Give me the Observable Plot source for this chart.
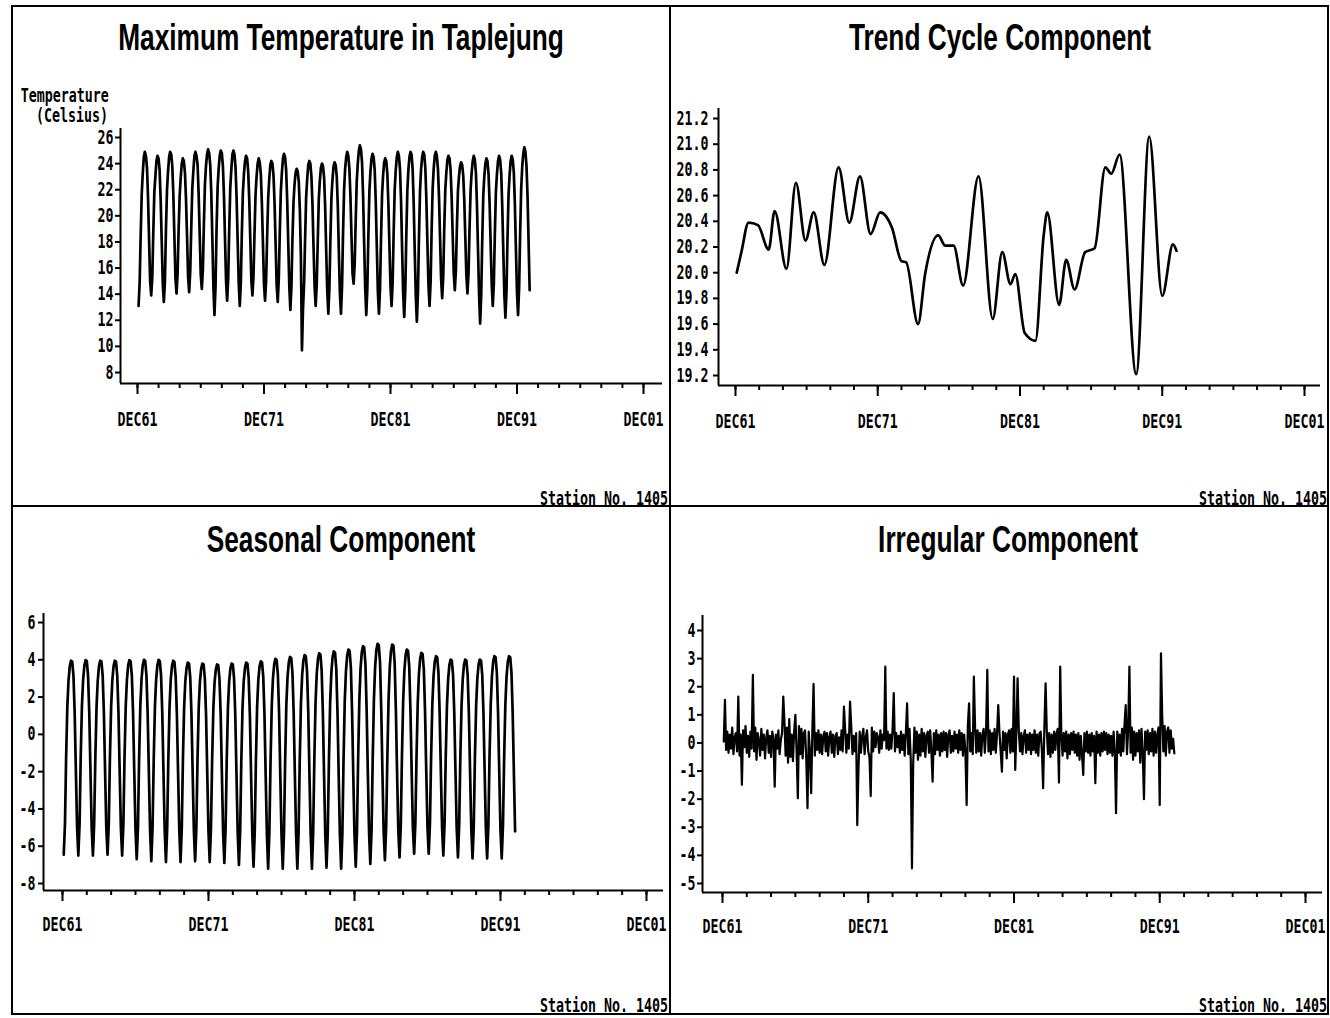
<!DOCTYPE html>
<html>
<head>
<meta charset="utf-8">
<script src="https://cdn.jsdelivr.net/npm/d3@7"></script>
<script src="https://cdn.jsdelivr.net/npm/@observablehq/plot@0.6"></script>
<style>
  html, body { margin: 0; padding: 0; background: #fff; }
  #page { position: relative; width: 1330px; height: 1018px; overflow: hidden; background: #fff; }
  .rule { position: absolute; background: #000; }
  .title {
    position: absolute; white-space: nowrap; color: #000; line-height: 1;
    font-family: "Liberation Sans", Arial, sans-serif; font-weight: bold; font-size: 37px;
    transform: translateX(-50%) scaleX(0.71);
  }
  .sas {
    position: absolute; white-space: nowrap; color: #000; line-height: 1;
    font-family: "DejaVu Sans Mono", monospace; font-weight: bold; font-size: 19px;
    transform-origin: right center; transform: scaleX(0.7);
  }
  .chart { position: absolute; }
</style>
</head>
<body>
<div id="page"></div>
<script>
// Monthly maximum temperature at Taplejung, Jan 1962 – Dec 1992 (°C), one row per year
const maxTemp = [
  [13.1,14.9,18.3,21.6,23.2,24.5,24.9,24.6,23.7,21.4,18.1,15.0],
  [13.9,15.3,18.6,21.8,23.0,24.2,24.6,24.4,23.5,21.2,18.0,14.8],
  [13.4,15.0,18.9,22.0,23.4,24.5,24.9,24.7,23.8,21.6,18.3,15.2],
  [14.05,15.6,18.8,21.5,22.9,24.0,24.4,24.2,23.3,21.3,18.4,15.3],
  [14.15,15.8,19.0,22.1,23.4,24.6,24.9,24.6,23.9,21.7,18.6,15.5],
  [14.4,15.9,19.3,22.4,23.8,24.7,25.1,24.8,23.9,21.8,18.3,14.6],
  [12.4,14.6,18.9,22.2,23.6,24.6,25.0,24.8,23.8,21.6,18.2,15.0],
  [13.5,15.2,18.8,22.1,23.5,24.7,25.0,24.7,23.7,21.4,18.1,14.9],
  [13.1,14.9,18.6,21.8,23.2,24.2,24.6,24.4,23.4,21.3,18.2,15.1],
  [13.9,15.4,18.5,21.6,23.0,24.0,24.4,24.1,23.2,21.0,17.9,14.8],
  [13.5,15.1,18.4,21.4,22.8,23.9,24.2,24.0,23.1,21.0,17.8,14.7],
  [13.4,15.2,18.7,21.9,23.3,24.4,24.75,24.5,23.5,21.2,17.9,14.6],
  [12.8,14.6,18.2,21.0,22.4,23.3,23.6,23.4,22.6,20.5,16.9,9.7],
  [12.9,14.8,18.1,21.4,22.8,23.9,24.2,24.0,23.0,20.9,17.6,14.6],
  [13.1,14.7,18.0,21.3,22.7,23.7,24.0,23.8,22.9,20.7,17.3,14.2],
  [12.5,14.5,18.1,21.4,22.8,23.8,24.1,23.9,23.0,20.8,17.2,14.1],
  [12.5,14.6,18.6,22.0,23.6,24.5,24.9,24.6,23.6,21.5,18.4,15.6],
  [14.8,16.3,19.5,22.6,24.0,25.0,25.4,25.1,24.1,21.6,17.9,14.5],
  [12.4,14.4,18.4,21.9,23.4,24.4,24.75,24.5,23.5,21.1,17.6,14.2],
  [12.5,14.4,18.1,21.6,23.1,24.1,24.4,24.2,23.2,20.9,17.6,14.6],
  [13.1,14.9,18.6,22.0,23.5,24.5,24.9,24.6,23.6,21.2,17.5,14.1],
  [12.25,14.3,18.3,21.9,23.5,24.5,24.9,24.7,23.6,21.0,17.3,13.9],
  [11.9,14.1,18.2,21.9,23.5,24.5,24.9,24.7,23.7,21.3,17.9,14.7],
  [13.1,14.9,18.7,22.1,23.6,24.6,24.9,24.6,23.6,21.5,18.3,15.2],
  [13.7,15.4,18.9,22.0,23.3,24.3,24.6,24.4,23.5,21.5,18.5,15.6],
  [14.3,15.8,19.0,21.9,23.0,23.8,24.1,23.9,23.1,21.2,18.3,15.4],
  [14.05,15.6,19.0,22.0,23.3,24.2,24.6,24.3,23.3,20.9,17.4,14.0],
  [11.75,13.9,17.9,21.5,23.0,24.0,24.4,24.2,23.2,21.0,17.8,14.8],
  [13.1,14.8,18.5,21.8,23.2,24.2,24.6,24.3,23.3,20.8,17.3,14.0],
  [12.2,14.2,18.1,21.6,23.1,24.2,24.6,24.3,23.3,20.9,17.4,14.1],
  [12.4,14.5,18.6,22.1,23.8,24.8,25.25,24.9,23.8,21.5,17.9,14.3]
];

// Trend-cycle component: month offset from Jan 1962 and level (°C)
const trendMonths = [0,4,10,18,27,32,42,50,58,65,74,86,95,104,113,121,131,139,143,153,
  159,170,176,183,191,204,216,224,231,235,243,252,259,262,272,278,285,294,302,311,
  316,323,337,348,359,368,371];
const trendValues = [20.00,20.16,20.39,20.37,20.18,20.48,20.03,20.70,20.25,20.47,
  20.06,20.82,20.39,20.75,20.30,20.47,20.35,20.09,20.08,19.60,
  19.99,20.29,20.21,20.21,19.90,20.75,19.64,20.16,19.91,19.99,
  19.53,19.47,20.29,20.47,19.75,20.10,19.87,20.16,20.19,20.82,
  20.77,20.92,19.21,21.06,19.82,20.22,20.17];

// Seasonal component, one row per year
const seasonal = [
  [-6.45,-4.80,-1.30,1.50,2.90,3.65,3.95,3.90,3.15,1.20,-2.00,-5.00],
  [-6.50,-4.82,-1.30,1.52,2.92,3.68,3.98,3.93,3.17,1.20,-2.02,-5.02],
  [-6.50,-4.81,-1.31,1.50,2.90,3.66,3.95,3.91,3.15,1.19,-2.03,-5.03],
  [-6.45,-4.80,-1.30,1.50,2.91,3.66,3.95,3.90,3.14,1.18,-2.05,-5.05],
  [-6.50,-4.85,-1.32,1.52,2.93,3.70,3.98,3.92,3.15,1.17,-2.08,-5.10],
  [-6.70,-4.95,-1.35,1.53,2.95,3.72,4.00,3.94,3.16,1.16,-2.10,-5.15],
  [-6.80,-5.00,-1.38,1.52,2.95,3.71,4.00,3.93,3.14,1.14,-2.12,-5.18],
  [-6.85,-5.02,-1.40,1.50,2.92,3.66,3.95,3.88,3.10,1.12,-2.13,-5.20],
  [-6.85,-5.03,-1.42,1.46,2.86,3.57,3.85,3.80,3.04,1.10,-2.14,-5.20],
  [-6.80,-5.02,-1.42,1.44,2.82,3.52,3.80,3.75,3.00,1.08,-2.15,-5.22],
  [-6.85,-5.05,-1.44,1.42,2.78,3.47,3.75,3.71,2.97,1.07,-2.17,-5.25],
  [-6.90,-5.08,-1.45,1.44,2.82,3.52,3.80,3.75,3.00,1.08,-2.18,-5.28],
  [-7.00,-5.14,-1.47,1.46,2.86,3.57,3.85,3.80,3.04,1.10,-2.20,-5.32],
  [-7.10,-5.20,-1.50,1.50,2.92,3.64,3.92,3.87,3.10,1.12,-2.22,-5.35],
  [-7.20,-5.26,-1.52,1.55,3.00,3.76,4.05,3.99,3.20,1.15,-2.24,-5.38],
  [-7.20,-5.27,-1.52,1.60,3.08,3.86,4.15,4.09,3.28,1.18,-2.25,-5.40],
  [-7.20,-5.28,-1.52,1.64,3.16,3.95,4.25,4.19,3.36,1.20,-2.26,-5.40],
  [-7.20,-5.28,-1.50,1.68,3.23,4.05,4.35,4.29,3.44,1.22,-2.26,-5.40],
  [-7.15,-5.26,-1.48,1.72,3.31,4.15,4.45,4.38,3.52,1.24,-2.25,-5.40],
  [-7.20,-5.28,-1.47,1.76,3.38,4.23,4.55,4.48,3.60,1.26,-2.25,-5.38],
  [-7.10,-5.22,-1.42,1.83,3.52,4.40,4.73,4.66,3.74,1.30,-2.22,-5.32],
  [-6.95,-5.12,-1.38,1.88,3.61,4.52,4.86,4.79,3.84,1.33,-2.18,-5.25],
  [-6.75,-4.98,-1.34,1.86,3.59,4.48,4.82,4.75,3.81,1.32,-2.14,-5.15],
  [-6.60,-4.88,-1.30,1.76,3.40,4.24,4.55,4.49,3.60,1.26,-2.10,-5.05],
  [-6.40,-4.75,-1.27,1.68,3.25,4.07,4.37,4.31,3.46,1.22,-2.07,-5.00],
  [-6.40,-4.75,-1.27,1.60,3.11,3.90,4.19,4.13,3.32,1.18,-2.06,-5.02],
  [-6.50,-4.80,-1.28,1.54,2.98,3.73,4.01,3.96,3.18,1.15,-2.07,-5.05],
  [-6.60,-4.86,-1.30,1.54,2.98,3.73,4.01,3.96,3.18,1.15,-2.08,-5.08],
  [-6.65,-4.90,-1.31,1.55,2.99,3.74,4.01,3.96,3.18,1.15,-2.10,-5.12],
  [-6.65,-4.90,-1.31,1.60,3.10,3.89,4.19,4.13,3.31,1.18,-2.11,-5.15],
  [-6.65,-4.91,-1.32,1.60,3.10,3.89,4.19,4.13,3.31,1.18,-2.12,-5.20]
];

// Irregular component, one row per year
const irregular = [
  [0.05,1.53,-0.25,0.40,-0.35,0.30,-0.20,0.55,-0.40,0.20,0.35,-0.30],
  [1.65,-0.45,0.30,-1.49,0.45,-0.15,0.60,-0.35,0.25,-0.50,0.40,-0.20],
  [2.42,-0.30,0.55,-0.60,0.35,0.10,-0.45,0.50,-0.25,0.30,-0.55,0.20],
  [0.45,-0.35,0.25,-0.50,0.40,0.15,-1.56,0.30,-0.20,0.45,-0.40,0.10],
  [0.35,1.65,0.80,-0.45,0.55,-0.70,0.85,-0.50,0.30,-0.65,0.40,1.00],
  [-0.30,-1.97,0.60,-0.40,0.50,-0.55,0.35,0.45,-0.60,-2.32,0.40,-0.30],
  [-1.79,0.50,2.10,-0.45,0.35,-0.25,0.45,-0.35,0.30,-0.40,0.25,0.40],
  [-0.30,0.35,-0.45,0.20,0.40,-0.35,0.30,-0.50,0.25,0.35,-0.40,0.20],
  [-0.25,0.45,-0.30,1.29,0.50,-0.35,0.30,-0.20,1.47,0.60,-0.40,0.25],
  [-0.30,0.35,-2.92,-0.90,0.40,-0.35,0.25,0.50,-0.40,0.20,0.45,-0.30],
  [-0.50,-1.89,0.55,-0.30,0.40,-0.15,0.35,0.20,-0.35,0.45,-0.20,0.30],
  [0.10,2.72,-0.20,0.40,-0.25,0.30,-0.20,0.45,1.77,-0.30,0.35,-0.15],
  [0.25,-0.35,0.40,-0.25,0.30,-0.45,0.35,1.41,-0.40,0.50,-0.60,-4.46],
  [-0.70,0.55,-0.35,0.40,-0.60,0.30,-0.45,0.50,-0.30,0.35,-0.50,0.25],
  [0.40,-0.35,0.45,-0.30,-1.38,0.35,-0.40,0.45,-0.25,0.30,-0.45,0.35],
  [-0.30,0.40,-0.25,0.35,-0.50,0.30,0.45,-0.35,0.25,-0.30,0.40,-0.20],
  [0.30,-0.35,0.45,-0.25,0.35,-0.45,0.30,-0.30,-2.21,0.60,1.41,-0.30],
  [0.35,-0.40,2.36,0.55,-0.35,0.45,-0.30,0.35,-0.45,0.30,0.50,-0.35],
  [0.40,2.60,-0.30,0.45,-0.40,0.35,-0.25,0.50,-0.35,0.30,1.35,0.40],
  [-0.30,-1.02,0.40,-0.25,0.35,-0.55,0.30,0.45,-0.35,0.50,-0.30,2.36],
  [-0.96,0.55,2.30,0.40,-0.30,0.35,-0.40,0.25,0.45,-0.35,0.30,-0.25],
  [0.35,-0.40,0.30,-0.25,0.45,-0.35,0.30,-0.45,0.35,0.40,-0.30,-1.61],
  [0.55,2.12,0.45,-0.40,0.35,-0.50,0.30,-0.35,0.40,-0.25,0.35,0.50],
  [-1.41,2.72,0.30,-0.45,0.35,-0.30,0.40,-0.55,0.30,-0.40,0.35,-0.25],
  [0.40,-0.35,0.30,-0.45,0.35,-0.60,0.25,-0.40,-1.14,0.35,-0.30,0.40],
  [-0.35,0.30,-0.45,0.35,-0.30,0.25,-1.43,0.40,-0.35,0.30,-0.45,0.35],
  [-0.30,0.40,-0.25,0.35,-0.40,0.30,-0.35,0.25,-0.45,0.40,-0.30,-2.50],
  [0.40,-0.35,0.30,-0.45,0.50,-0.30,0.65,1.35,-0.40,0.45,2.72,-0.35],
  [0.55,-0.60,0.40,-0.45,0.35,-0.30,0.45,-0.70,0.50,-0.35,-2.00,0.40],
  [-0.25,0.45,-0.40,0.35,-0.30,0.50,-0.45,0.40,-0.35,0.30,0.55,-2.21],
  [3.19,0.95,-0.30,0.60,-0.45,0.40,0.55,-0.35,0.45,-0.20,0.15,-0.37]
];

// Axis ticks and labels
const majorTickDates = ["1961-12-01","1971-12-01","1981-12-01","1991-12-01","2001-12-01"];
const tempTicks = [8,10,12,14,16,18,20,22,24,26];
const trendTicks = [19.2,19.4,19.6,19.8,20.0,20.2,20.4,20.6,20.8,21.0,21.2];
const seasonalTicks = [-8,-6,-4,-2,0,2,4,6];
const irregularTicks = [-5,-4,-3,-2,-1,0,1,2,3,4];
const titles = ["Maximum Temperature in Taplejung","Trend Cycle Component","Seasonal Component","Irregular Component"];
const yLabelLines = ["Temperature","(Celsius)"];
const stationLabel = "Station No. 1405";

// ---- helpers ----
const firstYear = 1962;
const monthDate = i => new Date(Date.UTC(firstYear, i, 1));
const flatten = rows => rows.flat().map((value, i) => ({date: monthDate(i), value}));
const majors = majorTickDates.map(s => new Date(s + "T00:00:00Z"));
const minors = d3.utcMonth.range(majors[0], new Date(+majors[4] + 1), 20);
const fmtMonth = d3.utcFormat("%b%y");

const page = document.getElementById("page");
function addDiv(cls, css, text) {
  const el = document.createElement("div");
  el.className = cls;
  Object.assign(el.style, css);
  if (text != null) el.textContent = text;
  page.appendChild(el);
  return el;
}

// Panel frame
[[11,5,1318,2],[11,505,1318,2],[11,1013,1318,2]].forEach(([l,t,w,h]) =>
  addDiv("rule", {left: l+"px", top: t+"px", width: w+"px", height: h+"px"}));
[[11,5,2,1010],[669,5,2,1010],[1327,5,2,1010]].forEach(([l,t,w,h]) =>
  addDiv("rule", {left: l+"px", top: t+"px", width: w+"px", height: h+"px"}));

function panel(cfg) {
  const [bx, by, W, H] = cfg.box;
  // time value per pixel from the DEC61 / DEC01 tick positions
  const k = (+majors[4] - +majors[0]) / (cfg.xTickPx[1] - cfg.xTickPx[0]);
  const xDomain = [new Date(+majors[0] + (cfg.axisLeft - cfg.xTickPx[0]) * k),
                   new Date(+majors[4] + (cfg.axisRight - cfg.xTickPx[1]) * k)];
  const [[v0, p0], [v1, p1]] = cfg.yRef;
  const ky = (v1 - v0) / (p1 - p0);
  const yDomain = [v0 + (cfg.axisBottom - p0) * ky, v0 + (cfg.axisTop - p0) * ky];

  const svg = Plot.plot({
    width: W, height: H,
    marginLeft: cfg.axisLeft - bx, marginRight: bx + W - cfg.axisRight,
    marginTop: cfg.axisTop - by, marginBottom: by + H - cfg.axisBottom,
    style: {fontFamily: "'DejaVu Sans Mono', monospace", fontSize: "19px", fontWeight: "bold",
            color: "#000", background: "transparent", overflow: "visible"},
    x: {type: "utc", domain: xDomain},
    y: {domain: yDomain},
    marks: [
      Plot.axisY({ticks: cfg.yTicks, tickFormat: cfg.yFormat, tickSize: 5, tickPadding: cfg.yPad,
                  strokeWidth: 2, label: null}),
      Plot.axisX({ticks: minors, tickFormat: () => "", tickSize: 5, strokeWidth: 2, label: null}),
      Plot.axisX({ticks: majors, tickFormat: d => fmtMonth(d).toUpperCase(), tickSize: 11,
                  tickPadding: cfg.xPad, strokeWidth: 2, label: null}),
      Plot.ruleX([xDomain[0]], {stroke: "#000", strokeWidth: 2}),
      Plot.ruleY([yDomain[0]], {stroke: "#000", strokeWidth: 2}),
      Plot.line(cfg.data, {x: "date", y: "value", stroke: "#000", strokeWidth: cfg.lineWidth,
                           curve: cfg.curve || "linear", strokeLinejoin: "round"})
    ]
  });
  // narrow the bitmap-style lettering of the tick labels
  svg.querySelectorAll("text").forEach(t => {
    const tr = t.getAttribute("transform") || "";
    t.setAttribute("transform", tr + " scale(0.7,1)");
  });
  svg.classList.add("chart");
  svg.style.left = bx + "px";
  svg.style.top = by + "px";
  page.appendChild(svg);
}

panel({
  box: [13, 60, 656, 420], axisLeft: 120, axisRight: 662, axisTop: 128, axisBottom: 383,
  xTickPx: [137, 643], yRef: [[26, 137], [8, 372]], yTicks: tempTicks, yFormat: d => String(d),
  yPad: 2, xPad: 18, data: flatten(maxTemp), lineWidth: 2.7
});
panel({
  box: [671, 60, 656, 420], axisLeft: 718, axisRight: 1320, axisTop: 108, axisBottom: 385,
  xTickPx: [735, 1304], yRef: [[21.2, 118], [19.2, 375]], yTicks: trendTicks, yFormat: d => d.toFixed(1),
  yPad: 5, xPad: 18,
  data: trendMonths.map((m, i) => ({date: monthDate(m), value: trendValues[i]})),
  lineWidth: 2.7, curve: "monotone-x"
});
panel({
  box: [13, 570, 656, 400], axisLeft: 43, axisRight: 663, axisTop: 613, axisBottom: 890,
  xTickPx: [62, 646], yRef: [[6, 622], [-8, 883]], yTicks: seasonalTicks, yFormat: d => String(d),
  yPad: 3, xPad: 16, data: flatten(seasonal), lineWidth: 2.7
});
panel({
  box: [671, 570, 656, 400], axisLeft: 702, axisRight: 1322, axisTop: 615, axisBottom: 892,
  xTickPx: [722, 1305], yRef: [[4, 630], [-5, 883]], yTicks: irregularTicks, yFormat: d => String(d),
  yPad: 2, xPad: 16, data: flatten(irregular), lineWidth: 2.2
});

// Titles (baseline ≈ top + 31px)
[[341, 19, 0], [1000, 19, 1], [341, 521, 2], [1008, 521, 3]].forEach(([x, y, i]) =>
  addDiv("title", {left: x + "px", top: y + "px"}, titles[i]));

// Y-axis caption of the temperature panel (baseline ≈ top + 16px)
addDiv("sas", {right: (1330 - 109) + "px", top: "86px"}, yLabelLines[0]);
addDiv("sas", {right: (1330 - 108) + "px", top: "106px"}, yLabelLines[1]);

// Station captions sitting on the panel borders
[[668, 489], [1327, 489], [668, 996], [1327, 996]].forEach(([r, t]) =>
  addDiv("sas", {right: (1330 - r) + "px", top: t + "px"}, stationLabel));
</script>
</body>
</html>
